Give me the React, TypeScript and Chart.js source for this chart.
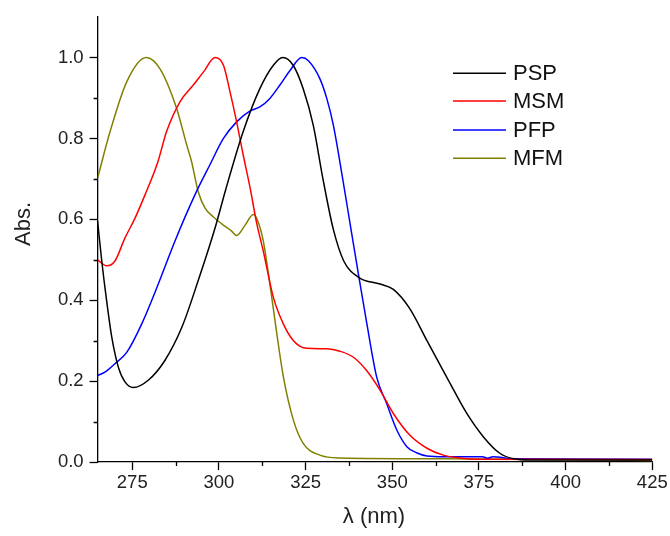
import React, { useEffect, useRef } from "react";
import { Chart, registerables } from "chart.js";

Chart.register(...registerables);

const seriesNames = ["PSP", "MSM", "PFP", "MFM"];
const seriesColors = ["#000000", "#ff0000", "#0000ff", "#808000"];

const pspNm = [265, 266.2, 267.6, 269.1, 271, 272.9, 275.3, 279.6, 284.4, 289.3, 294, 298.9, 301.9, 307, 311.8, 315.7, 318.4, 321.4, 324.3, 327.2, 330, 333, 336, 340.4, 346.5, 350.3, 355, 360, 366.2, 371.5, 376.3, 381.1, 385, 390, 425];
const pspAbs = [0.595, 0.497, 0.399, 0.308, 0.234, 0.198, 0.184, 0.202, 0.251, 0.333, 0.448, 0.579, 0.672, 0.817, 0.923, 0.981, 1.0, 0.981, 0.923, 0.833, 0.7, 0.575, 0.497, 0.456, 0.44, 0.427, 0.38, 0.3, 0.202, 0.12, 0.062, 0.021, 0.008, 0.005, 0.005];

const msmNm = [265, 267.6, 270, 272.9, 275.8, 278.7, 282.3, 284.9, 288.8, 292.6, 295.5, 298.9, 301.3, 303.2, 305.1, 307, 309, 310.9, 312.8, 315.7, 318.6, 321.5, 325.3, 331.1, 334.9, 338.8, 342.6, 346.5, 350.3, 355.1, 360, 364.7, 369.5, 375, 425];
const msmAbs = [0.5, 0.485, 0.497, 0.554, 0.603, 0.661, 0.74, 0.817, 0.891, 0.932, 0.964, 1.0, 0.981, 0.915, 0.841, 0.759, 0.677, 0.59, 0.521, 0.407, 0.341, 0.3, 0.281, 0.28, 0.274, 0.259, 0.226, 0.177, 0.12, 0.066, 0.034, 0.017, 0.01, 0.007, 0.006];

const pfpNm = [265, 267.1, 270, 273.4, 277.7, 282.5, 287.3, 293.1, 297.4, 301.3, 305.1, 309, 311.8, 314.7, 317.6, 320.5, 323.9, 325.8, 329.1, 331.1, 333, 335.7, 338, 340.4, 342.6, 345.5, 348.4, 351.3, 354.2, 357, 360, 365, 376, 377.5, 379, 385, 425];
const pfpAbs = [0.214, 0.222, 0.243, 0.271, 0.341, 0.44, 0.546, 0.661, 0.735, 0.8, 0.841, 0.868, 0.878, 0.899, 0.932, 0.968, 1.0, 0.992, 0.948, 0.899, 0.833, 0.7, 0.58, 0.456, 0.345, 0.21, 0.144, 0.079, 0.038, 0.023, 0.015, 0.013, 0.013, 0.009, 0.013, 0.008, 0.007];

const mfmNm = [265, 268.6, 273.4, 279, 283, 287.8, 290.7, 292.1, 294, 296, 298.5, 301.7, 303.5, 305.1, 307.5, 309.9, 311, 312.8, 314.7, 316.7, 318.6, 321.5, 324.3, 329.1, 335, 365, 425];
const mfmAbs = [0.702, 0.817, 0.94, 1.0, 0.972, 0.874, 0.784, 0.743, 0.669, 0.628, 0.605, 0.583, 0.572, 0.56, 0.585, 0.612, 0.6, 0.546, 0.44, 0.317, 0.21, 0.103, 0.046, 0.017, 0.01, 0.008, 0.004];

const xMinorTicks = [287.5, 312.5, 337.5, 362.5, 387.5, 412.5];
const yMinorTicks = [0.1, 0.3, 0.5, 0.7, 0.9];
const xTitle = "λ (nm)";
const yTitle = "Abs.";

const FONT = "'Liberation Sans', Arial, sans-serif";

const toPoints = (xs: number[], ys: number[]) => xs.map((x, i) => ({ x, y: ys[i] }));

const decorPlugin = {
  id: "decor",
  afterDraw(chart: any) {
    const ctx = chart.ctx;
    const xs = chart.scales.x;
    const ys = chart.scales.y;
    const area = chart.chartArea;
    ctx.save();
    // minor ticks
    ctx.strokeStyle = "#000";
    ctx.lineWidth = 1.3;
    ctx.beginPath();
    xMinorTicks.forEach((v) => {
      const px = Math.round(xs.getPixelForValue(v)) + 0.5;
      ctx.moveTo(px, area.bottom);
      ctx.lineTo(px, area.bottom + 4);
    });
    yMinorTicks.forEach((v) => {
      const py = Math.round(ys.getPixelForValue(v)) + 0.5;
      ctx.moveTo(area.left, py);
      ctx.lineTo(area.left - 4, py);
    });
    ctx.stroke();
    // axis titles
    ctx.fillStyle = "#222";
    ctx.font = `22px ${FONT}`;
    ctx.textAlign = "center";
    ctx.textBaseline = "middle";
    ctx.fillText(xTitle, (area.left + area.right) / 2 - 1, 517);
    ctx.save();
    ctx.translate(24, 224);
    ctx.rotate(-Math.PI / 2);
    ctx.fillText(yTitle, 0, 0);
    ctx.restore();
    // legend
    const rowY = [73.3, 101, 130, 158.3];
    ctx.textAlign = "left";
    ctx.font = `22px ${FONT}`;
    seriesNames.forEach((name, i) => {
      ctx.strokeStyle = seriesColors[i];
      ctx.lineWidth = 1.6;
      ctx.beginPath();
      ctx.moveTo(453, rowY[i]);
      ctx.lineTo(506, rowY[i]);
      ctx.stroke();
      ctx.fillStyle = "#111";
      ctx.fillText(name, 513, rowY[i] + 1);
    });
    ctx.restore();
  },
};

export default function App() {
  const canvasRef = useRef<HTMLCanvasElement | null>(null);

  useEffect(() => {
    document.body.style.margin = "0";
    const canvas = canvasRef.current;
    if (!canvas) return;
    const datasets = [
      toPoints(pspNm, pspAbs),
      toPoints(msmNm, msmAbs),
      toPoints(pfpNm, pfpAbs),
      toPoints(mfmNm, mfmAbs),
    ].map((data, i) => ({
      label: seriesNames[i],
      data,
      borderColor: seriesColors[i],
      backgroundColor: seriesColors[i],
      borderWidth: 1.5,
      pointRadius: 0,
      fill: false,
      cubicInterpolationMode: "monotone" as const,
    }));

    const chart = new Chart(canvas, {
      type: "line",
      data: { datasets },
      options: {
        animation: false,
        responsive: false,
        devicePixelRatio: 1,
        layout: { padding: { top: 15, right: 17.7, left: 0, bottom: 0 } },
        plugins: {
          legend: { display: false },
          tooltip: { enabled: false },
        },
        scales: {
          x: {
            type: "linear",
            min: 265,
            max: 425,
            afterFit: (s: any) => {
              s.height = 74;
            },
            border: { display: true, color: "#000", width: 1.3 },
            grid: { drawOnChartArea: false, drawTicks: true, tickLength: 8, tickColor: "#000", tickWidth: 1.3 },
            ticks: {
              stepSize: 25,
              includeBounds: false,
              autoSkip: false,
              maxRotation: 0,
              padding: 2,
              color: "#222",
              font: { family: FONT, size: 18.5 },
              callback: (v: any) => String(Math.round(Number(v))),
            },
          },
          y: {
            type: "linear",
            min: 0,
            max: 1.1,
            afterFit: (s: any) => {
              s.width = 97.6;
            },
            border: { display: true, color: "#000", width: 1.3 },
            grid: { drawOnChartArea: false, drawTicks: true, tickLength: 8, tickColor: "#000", tickWidth: 1.3 },
            ticks: {
              stepSize: 0.2,
              includeBounds: false,
              autoSkip: false,
              padding: 6,
              color: "#222",
              font: { family: FONT, size: 18.5 },
              callback: (v: any) => Number(v).toFixed(1),
            },
          },
        },
      },
      plugins: [decorPlugin],
    });
    return () => chart.destroy();
  }, []);

  return (
    <div style={{ width: 670, height: 536 }}>
      <canvas ref={canvasRef} width={670} height={536} style={{ display: "block" }} />
    </div>
  );
}
